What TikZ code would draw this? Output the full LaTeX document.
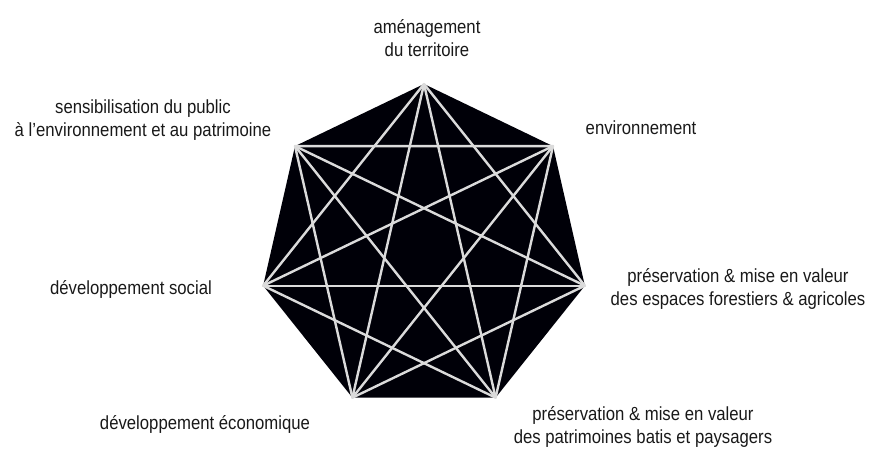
\documentclass[tikz,border=0pt]{standalone}
\usepackage{fontspec}
\setmainfont{Liberation Sans}[FakeStretch=0.88]
\begin{document}
\begin{tikzpicture}[x=1pt,y=-1pt,
  label/.style={align=center,text=black!90,inner sep=0pt,
    font=\fontsize{19}{23.5}\selectfont},
  chord/.style={draw=black!14,line width=2.4pt,line cap=round}]
\useasboundingbox (0,0) rectangle (875,461);
% vertices of the regular heptagon
\foreach \i in {0,...,6}
  \coordinate (v\i) at ({424+165*cos(90-360/7*\i)},{249-165*sin(90-360/7*\i)});
\fill[black!97!blue] (v0)--(v1)--(v2)--(v3)--(v4)--(v5)--(v6)--cycle;
% every diagonal of the heptagon
\foreach \i in {0,...,5}{
  \pgfmathtruncatemacro{\s}{\i+1}
  \foreach \j in {\s,...,6}{
    \pgfmathtruncatemacro{\d}{\j-\i}
    \ifnum\d=1\else\ifnum\d=6\else
      \draw[chord] (v\i) -- (v\j);
    \fi\fi
  }
}
% labels
\node[label] (amenagement) at (427,38) {aménagement\\du territoire};
\node[label] (environnement) at (641,128) {environnement};
\node[label] (espaces) at (738,289) {préservation \& mise en valeur\\des espaces forestiers \& agricoles};
\node[label] (patrimoines) at (643,427) {préservation \& mise en valeur\\des patrimoines batis et paysagers};
\node[label] (economique) at (205,424) {développement économique};
\node[label] (social) at (131,289) {développement social};
\node[label] (sensibilisation) at (143,120) {sensibilisation du public\\à l'environnement et au patrimoine};
\end{tikzpicture}
\end{document}
